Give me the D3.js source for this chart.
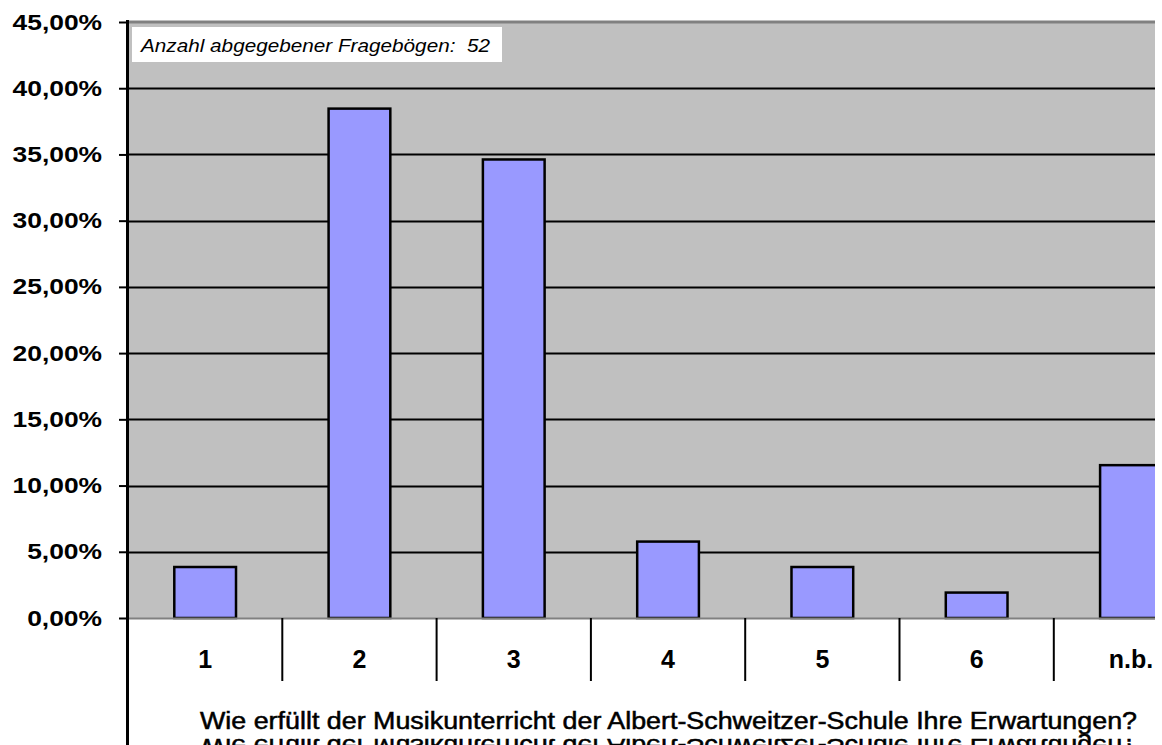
<!DOCTYPE html>
<html>
<head>
    <meta charset="utf-8">
    <title>Musikunterricht</title>
    <style>
        body { margin: 0; background: #fff; }
        svg { display: block; font-family: "Liberation Sans", Arial, sans-serif; }
    </style>
</head>
<body>
<svg width="1162" height="745"></svg>
<script src="https://d3js.org/d3.v7.min.js"></script>
<script>
const categories = ["1", "2", "3", "4", "5", "6", "n.b."];
const shares = [0.0385, 0.3846, 0.3462, 0.0577, 0.0385, 0.0192, 0.1154];
const yTicks = [0, 0.05, 0.10, 0.15, 0.20, 0.25, 0.30, 0.35, 0.40, 0.45];
const note = "Anzahl abgegebener Fragebögen:  52";
const title = "Wie erfüllt der Musikunterricht der Albert-Schweitzer-Schule Ihre Erwartungen?";

const svg = d3.select("svg");
const plotLeft = 128, plotTop = 22, plotBottom = 618, clipRight = 1155;
const step = 154.3;
const axisRight = plotLeft + categories.length * step;
const stretch = 1.2; // the original text is drawn wider than Arial

const y = d3.scaleLinear().domain([0, 0.45]).range([plotBottom, plotTop]);
const x = d3.scaleBand().domain(categories).range([plotLeft, axisRight])
    .paddingInner(0.6).paddingOuter(0.3);
const groups = d3.scaleBand().domain(categories).range([plotLeft, axisRight]);

svg.append("clipPath").attr("id", "plotclip")
    .append("rect").attr("x", 0).attr("y", 0).attr("width", clipRight).attr("height", 745);

const plot = svg.append("g").attr("clip-path", "url(#plotclip)");

plot.append("rect")
    .attr("x", plotLeft).attr("y", plotTop)
    .attr("width", axisRight - plotLeft).attr("height", plotBottom - plotTop)
    .attr("fill", "#c0c0c0");

// top border
plot.append("line")
    .attr("x1", plotLeft).attr("x2", axisRight)
    .attr("y1", plotTop).attr("y2", plotTop)
    .attr("stroke", "#808080").attr("stroke-width", 3);

// gridlines
plot.append("g")
    .selectAll("line")
    .data(yTicks.filter(d => d > 0 && d < 0.45))
    .join("line")
    .attr("x1", plotLeft).attr("x2", axisRight)
    .attr("y1", d => Math.round(y(d)) + 0.5).attr("y2", d => Math.round(y(d)) + 0.5)
    .attr("stroke", "#000").attr("stroke-width", 2);

// bars
plot.append("g")
    .selectAll("rect")
    .data(shares)
    .join("rect")
    .attr("x", (d, i) => x(categories[i]))
    .attr("y", d => y(d))
    .attr("width", x.bandwidth())
    .attr("height", d => plotBottom - y(d))
    .attr("fill", "#9999ff")
    .attr("stroke", "#000").attr("stroke-width", 2.5);

// zero line
plot.append("line")
    .attr("x1", plotLeft).attr("x2", axisRight)
    .attr("y1", plotBottom + 0.5).attr("y2", plotBottom + 0.5)
    .attr("stroke", "#808080").attr("stroke-width", 2);

// category separators
plot.append("g")
    .selectAll("line")
    .data(categories.slice(1))
    .join("line")
    .attr("x1", d => groups(d)).attr("x2", d => groups(d))
    .attr("y1", plotBottom).attr("y2", 681)
    .attr("stroke", "#000").attr("stroke-width", 2);

// category labels
plot.append("g")
    .selectAll("text")
    .data(categories)
    .join("text")
    .attr("x", d => groups(d) + groups.bandwidth() / 2)
    .attr("y", 668)
    .attr("text-anchor", "middle")
    .attr("font-size", 25).attr("font-weight", "bold")
    .text(d => d);

// y axis
const yAxis = d3.axisLeft(y).tickValues(yTicks).tickSize(9).tickPadding(0)
    .tickFormat(d => d3.format(".2f")(d * 100).replace(".", ",") + "%");
const ax = svg.append("g").attr("transform", `translate(${plotLeft},0)`).call(yAxis);
ax.select(".domain").remove();
ax.selectAll(".tick line").attr("stroke", "#000").attr("stroke-width", 2);
ax.selectAll(".tick text")
    .attr("x", -26 / stretch)
    .attr("transform", `scale(${stretch},1)`)
    .attr("font-size", 22).attr("font-weight", "bold")
    .attr("font-family", "Liberation Sans, Arial, sans-serif")
    .attr("fill", "#000");

svg.append("line")
    .attr("x1", plotLeft - 0.5).attr("x2", plotLeft - 0.5)
    .attr("y1", plotTop - 2).attr("y2", 745)
    .attr("stroke", "#000").attr("stroke-width", 3);

// note box
svg.append("rect")
    .attr("x", 132).attr("y", 27).attr("width", 370).attr("height", 35)
    .attr("fill", "#fff");
svg.append("text")
    .attr("x", 141).attr("y", 52)
    .attr("font-size", 19).attr("font-style", "italic")
    .attr("textLength", 349).attr("lengthAdjust", "spacingAndGlyphs")
    .style("white-space", "pre")
    .text(note);

// title, with its mirrored copy cut off at the bottom edge
const cx = (plotLeft + axisRight) / 2;
svg.append("text")
    .attr("x", 200).attr("y", 729)
    .attr("font-size", 23)
    .attr("textLength", 937).attr("lengthAdjust", "spacingAndGlyphs")
    .attr("stroke", "#000").attr("stroke-width", 0.5)
    .text(title);
svg.append("text")
    .attr("transform", "translate(0,739) scale(1,-1)")
    .attr("x", 200).attr("y", 0)
    .attr("font-size", 23)
    .attr("textLength", 937).attr("lengthAdjust", "spacingAndGlyphs")
    .attr("stroke", "#000").attr("stroke-width", 0.5)
    .text(title);
</script>
</body>
</html>
